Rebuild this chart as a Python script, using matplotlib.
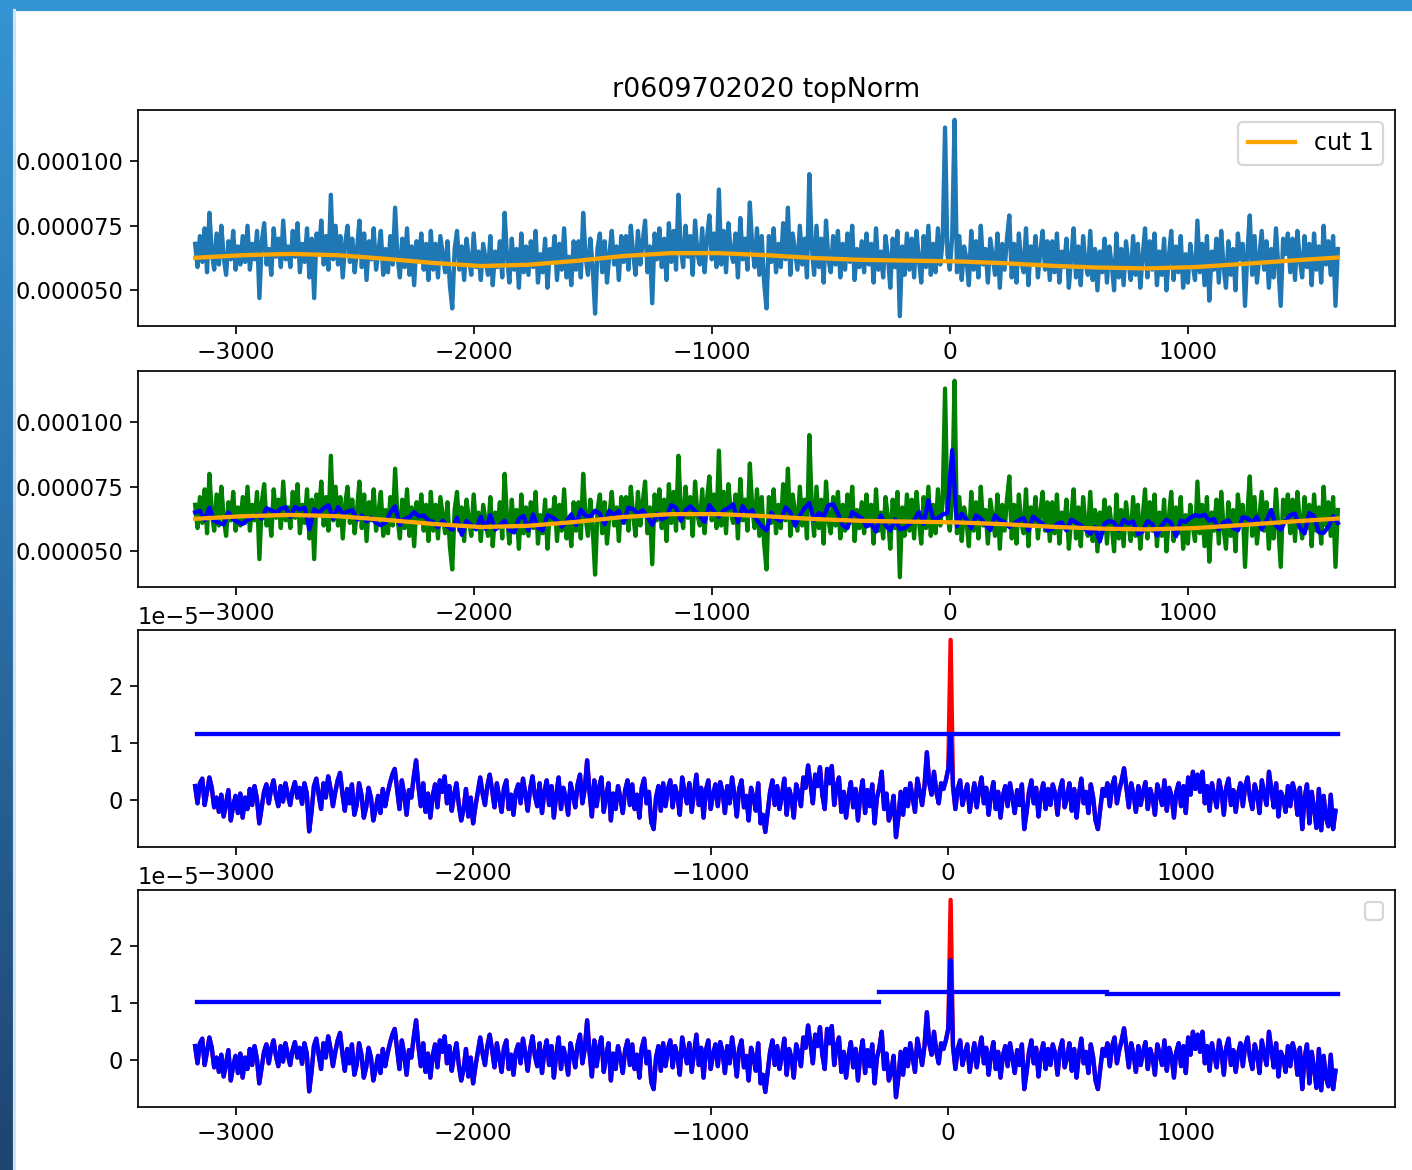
#Plot of the topNorm light curve with the cut fit and the residual checks
import numpy as np
import matplotlib.pyplot as plt
from matplotlib.patches import Rectangle
from matplotlib.ticker import MultipleLocator

#run name shown on top
run_name = 'r0609702020 topNorm'

#raw signal (units of 1e-6), one sample every 10 starting at -3170
raw = [68, 59, 71, 61, 74, 57, 80, 65, 58, 72, 60, 75, 63, 56, 69, 62, 73, 58, 67, 60,
       71, 61, 75, 58, 68, 62, 73, 47, 69, 76, 60, 66, 56, 74, 63, 70, 59, 77, 62, 67,
       59, 73, 63, 76, 57, 68, 61, 74, 55, 70, 47, 72, 65, 77, 60, 71, 58, 87, 62, 75,
       60, 71, 55, 68, 75, 61, 70, 57, 66, 77, 59, 72, 54, 69, 62, 74, 58, 65, 73, 56,
       66, 57, 71, 60, 82, 63, 55, 70, 59, 74, 56, 67, 52, 69, 62, 72, 58, 68, 54, 73,
       58, 68, 55, 71, 64, 57, 69, 52, 43, 66, 73, 58, 67, 54, 70, 62, 56, 72, 59, 65,
       54, 68, 62, 56, 71, 52, 65, 59, 69, 55, 80, 63, 53, 70, 58, 66, 51, 72, 57, 67,
       56, 69, 59, 73, 53, 64, 57, 70, 51, 66, 61, 71, 54, 68, 58, 74, 55, 63, 52, 69,
       58, 69, 55, 80, 63, 56, 70, 59, 41, 66, 72, 57, 69, 53, 64, 73, 60, 67, 54, 71,
       61, 71, 58, 75, 64, 56, 73, 60, 69, 77, 57, 67, 45, 72, 62, 74, 59, 70, 54, 76,
       61, 73, 58, 87, 66, 59, 75, 63, 71, 56, 77, 64, 60, 74, 57, 70, 79, 62, 72, 59,
       89, 60, 73, 57, 76, 65, 61, 72, 55, 78, 62, 70, 58, 84, 67, 59, 74, 56, 71, 53,
       43, 71, 61, 74, 57, 68, 59, 76, 62, 82, 56, 72, 65, 58, 75, 60, 70, 55, 95, 67,
       56, 75, 59, 70, 53, 77, 62, 57, 71, 60, 73, 55, 68, 58, 72, 61, 75, 54, 66, 59,
       69, 57, 72, 60, 68, 53, 74, 58, 65, 55, 71, 63, 51, 70, 59, 73, 40, 67, 56, 72,
       58, 70, 55, 73, 62, 53, 71, 59, 75, 56, 68, 57, 74, 60, 69, 113, 64, 58, 71, 116,
       57, 71, 54, 67, 62, 52, 73, 58, 69, 55, 75, 60, 66, 53, 70, 63, 56, 72, 51, 68,
       58, 70, 79, 55, 68, 53, 72, 61, 57, 74, 52, 67, 60, 71, 55, 65, 73, 58, 69, 54,
       69, 57, 72, 53, 65, 59, 70, 51, 63, 74, 55, 67, 52, 71, 60, 56, 73, 54, 66, 50,
       65, 57, 70, 53, 67, 60, 50, 72, 55, 66, 52, 69, 61, 54, 71, 56, 68, 51, 63, 74,
       55, 69, 58, 72, 52, 65, 56, 70, 50, 63, 73, 54, 67, 57, 71, 51, 64, 53, 68, 60,
       54, 77, 57, 68, 52, 71, 46, 65, 58, 70, 53, 73, 59, 51, 69, 56, 66, 50, 72, 62,
       68, 44, 65, 79, 56, 71, 53, 63, 73, 58, 69, 51, 66, 55, 74, 59, 44, 70, 64, 72,
       57, 70, 54, 73, 62, 55, 71, 59, 68, 52, 72, 58, 67, 53, 75, 60, 69, 56, 71, 44,
       66]

#cut 1 fit (units of 1e-6), one knot every 200
cut_x = [-3170, -2970, -2770, -2570, -2370, -2170, -1970, -1770, -1570, -1370, -1170, -970, -770,
         -570, -370, -170, 30, 230, 430, 630, 830, 1030, 1230, 1430, 1630]
cut_vals = [62.6, 63.6, 64.1, 63.6, 62.2, 60.6, 59.4, 59.9, 61.4, 63.3, 64.4, 64.4, 63.6,
            62.5, 61.8, 61.5, 61.2, 60.5, 59.5, 58.8, 58.5, 59.0, 60.2, 61.5, 62.7]

#smoothed signal (units of 1e-6), one sample every 20
smooth = [65.1, 65.7, 62.0, 66.9, 61.8, 61.1, 60.4, 65.1, 62.4, 61.3,
          60.6, 62.2, 62.9, 64.1, 62.6, 66.7, 65.9, 64.8, 66.5, 67.1,
          63.3, 67.2, 66.2, 66.9, 58.5, 66.3, 64.8, 66.7, 67.9, 62.6,
          67.1, 64.6, 65.3, 66.0, 62.2, 63.9, 61.6, 63.1, 61.0, 60.1,
          61.2, 65.0, 67.4, 60.2, 62.6, 63.2, 65.2, 63.6, 63.9, 62.0,
          61.4, 59.3, 61.9, 59.7, 58.3, 63.0, 56.4, 61.8, 60.1, 58.5,
          63.4, 58.7, 64.0, 58.4, 60.1, 61.9, 58.2, 57.3, 62.6, 63.7,
          58.1, 64.3, 59.2, 58.1, 64.0, 63.2, 61.8, 59.5, 61.6, 64.3,
          60.2, 66.1, 63.8, 63.5, 65.7, 64.6, 60.5, 65.7, 64.1, 65.6,
          61.1, 66.9, 66.3, 64.6, 65.9, 63.4, 60.2, 64.6, 62.4, 63.3,
          67.9, 66.9, 61.9, 65.9, 67.4, 65.6, 63.6, 61.4, 67.9, 65.4,
          63.4, 65.8, 66.7, 68.2, 61.3, 67.5, 64.7, 66.0, 62.0, 59.7,
          58.1, 65.0, 62.6, 61.8, 67.0, 65.1, 59.9, 64.0, 66.7, 68.7,
          62.0, 64.9, 63.4, 67.8, 68.2, 64.7, 60.1, 59.0, 65.2, 63.9,
          62.8, 59.6, 60.7, 57.7, 63.9, 60.2, 58.1, 62.4, 58.6, 59.0,
          60.5, 62.0, 65.2, 60.6, 69.8, 62.4, 62.8, 64.3, 64.8, 89.2,
          59.7, 64.6, 62.3, 59.0, 63.9, 62.7, 60.3, 58.2, 63.9, 62.1,
          61.3, 59.4, 60.8, 62.0, 62.9, 58.0, 63.4, 62.0, 60.7, 58.1,
          58.7, 60.6, 61.2, 58.1, 62.2, 61.2, 60.1, 58.5, 56.8, 59.4,
          53.8, 60.8, 61.7, 61.2, 58.2, 62.2, 60.8, 61.6, 56.6, 57.7,
          61.7, 60.6, 56.1, 59.9, 62.2, 61.0, 55.8, 61.9, 61.4, 63.0,
          64.0, 63.6, 64.2, 61.9, 62.5, 58.4, 61.2, 62.0, 59.1, 58.1,
          63.2, 62.8, 61.0, 63.4, 58.5, 61.9, 66.0, 59.9, 58.4, 61.9,
          64.0, 64.6, 59.2, 56.9, 64.8, 63.6, 57.4, 57.1, 59.5, 63.6,
          60.9]

#smoothed minus cut (units of 1e-7), one sample every 10
resid = [25, -5, 30, 38, -8, 15, 40, 22, -12, 5, -20, 10, -28, -5, 18, -35, -10, 8, -22, 12,
         -30, 5, -15, 20, -8, 25, 3, -40, -12, 15, 28, -5, 20, 35, 8, -10, 25, -2, 30, 10,
         -8, 18, 32, 5, 22, -6, 30, 12, -54, -20, 25, 38, 10, -15, 30, 5, 42, 20, -10, 15,
         35, 48, 12, -18, 20, -5, 28, -25, -8, 30, 10, -30, -12, 22, 5, -35, -15, 8, -22, 20,
         -10, 12, 30, 45, 55, 20, -15, 35, 10, -25, 18, 5, 40, 70, 25, -10, 30, -20, 12, -30,
         8, 28, -12, 35, 15, 42, -5, 25, -18, 10, 30, -8, -35, -15, 20, -28, 5, -40, -10, 15,
         40, 12, -8, 25, 45, 18, -12, 30, 5, -20, 22, 35, -15, 10, -25, 15, 28, -5, 38, 12,
         -18, 20, 42, 8, -10, 30, -22, 15, 35, -8, 25, -30, 10, 40, -15, 22, 5, -25, 30, 12,
         -12, 28, 45, -5, 20, 70, 15, -28, 35, -10, 22, 40, -20, 8, 30, -35, 12, -15, 25, 5,
         -22, 18, 35, -8, 28, -15, 10, -30, 22, 38, -5, 15, -38, -50, 5, 25, -18, 30, -10, 20,
         35, -12, 25, 8, -25, 40, 15, -5, 30, -20, 12, 45, -8, 22, -30, 18, 35, -15, 10, 28,
         -10, 32, 15, -22, 25, -5, 40, 10, -28, 20, 35, -12, 8, -35, 22, 5, -18, 30, -40, -25,
         -55, -20, 15, 35, -8, 25, -15, 10, 38, -25, 20, 5, -30, 28, 12, -10, 40, 22, 61, 30,
         -5, 45, 25, 58, 10, -15, 55, 30, 60, -8, 25, 40, -20, 15, -30, 8, 32, -12, 20, -35,
         10, 35, -22, 18, -10, 28, -40, 5, 22, 50, -15, 12, -35, -20, 8, -64, -30, 15, -25, 20,
         -10, 30, 5, -20, 38, 15, -8, 25, 84, 30, 10, 50, 15, -5, 30, 20, 35, 55, 280, 25,
         -15, 20, 35, -8, 12, 28, -20, 5, 30, -12, 18, 40, -5, 22, -25, 10, 32, -15, 15, -30,
         8, 25, -10, 30, 5, -22, 18, -8, 28, -50, -20, 15, 35, -5, 22, -28, 10, 30, -15, 20,
         -8, 28, 12, -25, 18, 35, -12, 5, 30, -18, 20, -30, 10, 38, -5, 15, -22, 28, 5, -35,
         -50, -15, 20, 8, 30, -10, 25, 40, -5, 18, 35, 56, 22, -12, 30, 10, -20, 25, -8, 15,
         32, -15, 20, 5, -25, 28, 12, -8, 35, -18, 22, 8, -30, 15, 30, -10, 25, -22, 40, 10,
         50, 20, 45, 15, 50, -5, 25, -18, 30, 8, -12, 35, 15, -25, 22, 38, -8, 18, -20, 12,
         30, -10, 25, 40, 5, -15, 28, 12, -22, 35, 10, -8, 50, 20, -12, 30, -28, 15, 5, -20,
         25, -10, 30, 12, -25, 22, -50, 5, 28, -40, 15, -15, -48, 20, -52, 8, -30, -45, 10, -50,
         -18]

#thresholds (units of 1e-5)
thr3_start = [-3163]
thr3_end = [1640]
thr3_level = [1.15]
thr4_start = [-3163, -290, 670]
thr4_end = [-290, 670, 1640]
thr4_level = [1.02, 1.19, 1.16]

#level above which the peak is shown in red (units of 1e-5)
red_level3 = 1.15
red_level4 = 1.75

x_raw = np.arange(-3170, 1631, 10)
x_smooth = np.arange(-3170, 1631, 20)
raw = np.array(raw) * 1e-6
smooth = np.array(smooth) * 1e-6
cut = np.array(cut_vals) * 1e-6
resid = np.array(resid) * 1e-7

plt.rcParams['lines.linewidth'] = 2.0
plt.rcParams['xtick.labelsize'] = 10.8
plt.rcParams['ytick.labelsize'] = 10.5
plt.rcParams['font.size'] = 10.8

W, H = 1413, 1170
dpi = 155
fig = plt.figure(figsize=(W / dpi, H / dpi), dpi=dpi)

#screenshot frame (blue bars top and left)
left_bar = fig.add_axes([0, 0, 14 / W, 1])
grad = np.linspace(0, 1, 256).reshape(-1, 1)
left_bar.imshow(grad, aspect='auto', cmap=plt.matplotlib.colors.LinearSegmentedColormap.from_list(
    'frame', ['#3594d3', '#2a6fa8', '#1e4470']), extent=[0, 1, 0, 1], origin='upper')
left_bar.axis('off')
fig.patches.append(Rectangle((0, 1 - 10 / H), 1, 10 / H, transform=fig.transFigure,
                             color='#3594d3', zorder=5))
fig.patches.append(Rectangle((14 / W, 0), 1.5 / W, 1 - 10 / H, transform=fig.transFigure,
                             color='#cfe3f3', zorder=5))

left = 138 / W
width = (1395 - 138) / W
def box(top, bottom):
    return [left, 1 - bottom / H, width, (bottom - top) / H]

ax1 = fig.add_axes(box(110, 326))
ax2 = fig.add_axes(box(371, 587))
ax3 = fig.add_axes(box(630, 847))
ax4 = fig.add_axes(box(890, 1107))

#top: raw with cut
ax1.plot(x_raw, raw)
ax1.plot(cut_x, cut, color='orange', label='cut 1')
ax1.set_title(run_name, fontsize=12.5)
ax1.legend(loc='upper right', fontsize=11)

#second: raw, smoothed and cut
ax2.plot(x_raw, raw, color='green')
ax2.plot(x_smooth, smooth, color='blue')
ax2.plot(cut_x, cut, color='orange')

for ax in (ax1, ax2):
    ax.yaxis.set_major_locator(MultipleLocator(0.000025))

#third and fourth: residual with thresholds, peak in red
for ax, red_level, starts, ends, levels in [(ax3, red_level3, thr3_start, thr3_end, thr3_level),
                                            (ax4, red_level4, thr4_start, thr4_end, thr4_level)]:
    ax.plot(x_raw, resid, color='red')
    ax.plot(x_raw, np.minimum(resid, red_level * 1e-5), color='blue')
    for s, e, lvl in zip(starts, ends, levels):
        ax.plot([s, e], [lvl * 1e-5, lvl * 1e-5], color='blue')
    ax.yaxis.set_major_locator(MultipleLocator(1e-5))

ax4.legend()

fig.savefig('out.png', dpi=dpi)
